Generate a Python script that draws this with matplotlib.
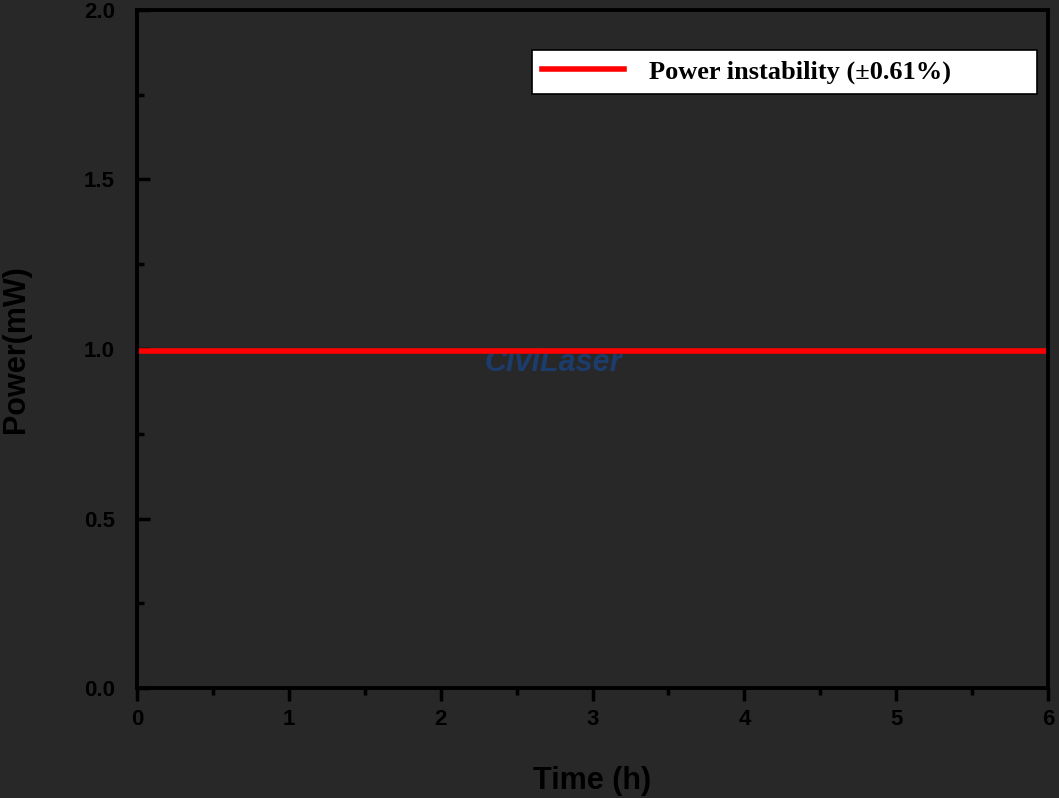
import numpy as np
import matplotlib.pyplot as plt
from matplotlib.ticker import MultipleLocator

# power readings over the 6 h run (mW)
hours = [0, 1, 2, 3, 4, 5, 6]
power = [0.995, 0.995, 0.995, 0.995, 0.995, 0.995, 0.995]
series_label = 'Power instability (\u00b10.61%)'

bg = '#282828'
fig = plt.figure(figsize=(10.59, 7.98), dpi=100, facecolor=bg)
ax = fig.add_axes([0.1294, 0.1378, 0.8602, 0.8497])
ax.set_facecolor(bg)

ax.plot(hours, power, color='#ff0000', lw=4, label=series_label)

ax.set_xlim(0, 6)
ax.set_ylim(0, 2.0)
ax.xaxis.set_major_locator(MultipleLocator(1))
ax.xaxis.set_minor_locator(MultipleLocator(0.5))
ax.yaxis.set_major_locator(MultipleLocator(0.5))
ax.yaxis.set_minor_locator(MultipleLocator(0.25))
ax.set_yticks(np.arange(0, 2.01, 0.5))
ax.set_yticklabels(['0.0', '0.5', '1.0', '1.5', '2.0'])

for s in ax.spines.values():
    s.set_linewidth(2.8)
    s.set_color('black')
ax.tick_params(axis='x', which='major', direction='out', length=9, width=2.5,
               labelsize=16, colors='black', pad=6)
ax.tick_params(axis='x', which='minor', direction='out', length=5, width=2.5, colors='black')
ax.tick_params(axis='y', which='major', direction='in', length=9, width=2.5,
               labelsize=16, colors='black', pad=16)
ax.tick_params(axis='y', which='minor', direction='in', length=5, width=2.5, colors='black')
for lab in ax.get_xticklabels() + ax.get_yticklabels():
    lab.set_fontfamily('Liberation Sans')
    lab.set_fontweight('bold')

ax.set_xlabel('Time (h)', fontsize=22, fontweight='bold', family='Liberation Sans',
              color='black', labelpad=26)
ax.set_ylabel('Power(mW)', fontsize=22, fontweight='bold', family='Liberation Sans',
              color='black')
ax.yaxis.set_label_coords(-0.116, 0.5)

# legend box stretched to the width seen in the original
leg = ax.legend(loc='upper left', bbox_to_anchor=(0.4336, 0.0, 0.5543, 0.941),
                mode='expand', borderaxespad=0, frameon=True, fancybox=False,
                handlelength=3.1, handletextpad=0.95, borderpad=0.38,
                prop={'family': 'Liberation Serif', 'weight': 'bold', 'size': 19})
leg.get_frame().set_edgecolor('black')
leg.get_frame().set_linewidth(1.2)
leg.get_frame().set_facecolor('white')
leg.get_frame().set_alpha(1)

# watermark
ax.text(2.74, 0.96, 'CiviLaser', fontsize=22, fontweight='bold', style='italic',
        family='Liberation Sans', color='#1c3c6c', ha='center', va='center', zorder=1)

fig.savefig('out.png', dpi=100, facecolor=bg)
